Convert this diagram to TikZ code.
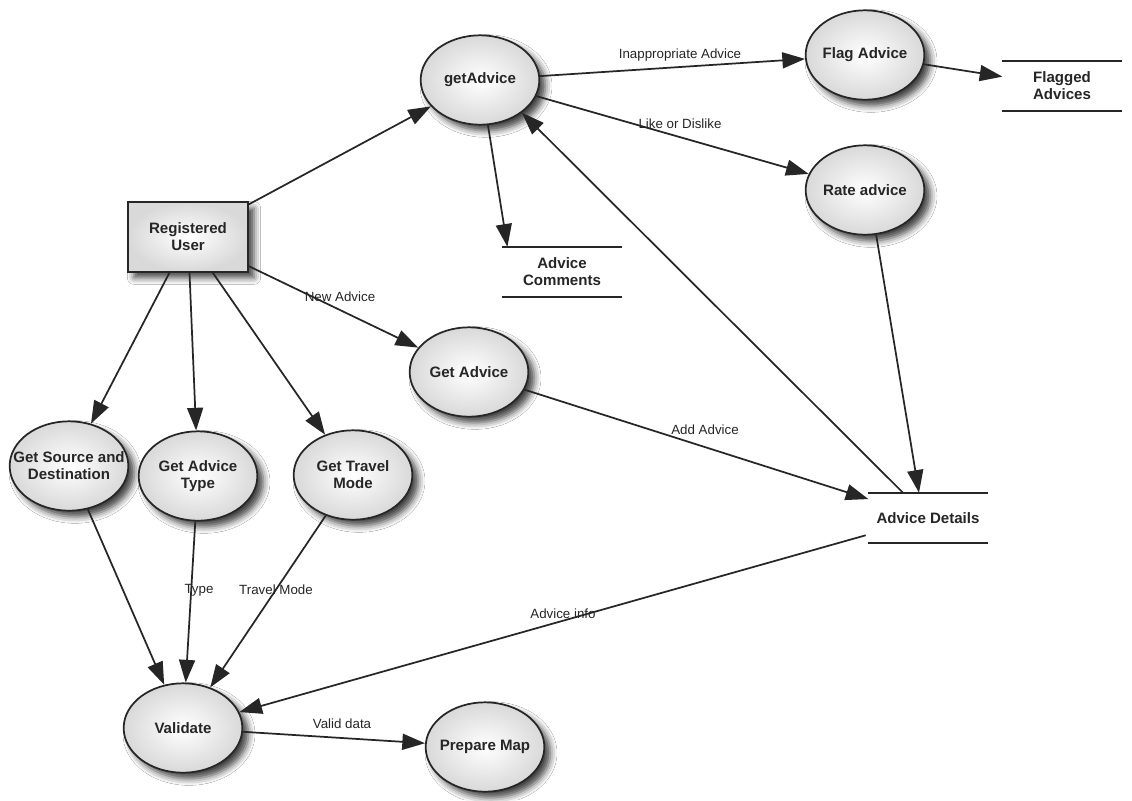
\documentclass[tikz,border=0pt]{standalone}
\usepackage{fontspec}
\setmainfont{Liberation Sans}
\usetikzlibrary{arrows.meta,shadows.blur,shapes.geometric,calc}
\definecolor{ln}{HTML}{262626}
\begin{document}
\begin{tikzpicture}[x=0.75pt,y=-0.75pt,
  shade/.style={inner color=white, outer color=gray!30,
    blur shadow={shadow xshift=4.5pt, shadow yshift=-4.5pt, shadow blur radius=5pt, shadow opacity=75}},
  proc/.style={ellipse, draw=ln, line width=1.3pt, minimum width=89pt, minimum height=67pt,
    inner sep=-20pt, align=center, text=ln, font=\fontsize{11.3}{12.8}\selectfont\bfseries, shade},
  ent/.style={rectangle, draw=ln, line width=1.3pt, minimum width=90pt, minimum height=52pt,
    inner sep=0pt, align=center, text=ln, font=\fontsize{11.3}{12.8}\selectfont\bfseries, shade},
  store/.style={rectangle, minimum width=89pt, minimum height=37.5pt, inner sep=0pt,
    align=center, text=ln, font=\fontsize{11.3}{12.8}\selectfont\bfseries},
  storeline/.style={draw=ln, line width=1.3pt},
  con/.style={draw=ln, line width=1.3pt, -{Triangle[length=17pt,width=12pt]}},
  lbl/.style={font=\fontsize{10}{12}\selectfont, text=ln, inner sep=1pt}
]
\fill[white] (0,0) rectangle (1132,800);
\useasboundingbox (0,0) rectangle (1132,800);

% processes
\node[proc] (ga) at (480,80) {getAdvice};
\node[proc] (fa) at (865,55) {Flag Advice};
\node[proc] (ra) at (865,190) {Rate advice};
\node[proc] (gad) at (469,372) {Get Advice};
\node[proc] (gsd) at (69,466) {Get Source and\\Destination};
\node[proc] (gat) at (198,476) {Get Advice\\Type};
\node[proc] (gtm) at (353,475) {Get Travel\\Mode};
\node[proc] (val) at (183,728) {Validate};
\node[proc] (pm) at (485,747) {Prepare Map};

% external entity
\node[ent] (ru) at (188,237) {Registered\\User};

% data stores
\node[store] (fl) at (1062,86) {Flagged\\Advices};
\node[store] (ac) at (562,272) {Advice\\Comments};
\node[store] (ad) at (928,518) {Advice Details};
\foreach \s in {fl,ac,ad}{
  \draw[storeline] (\s.north west) -- (\s.north east);
  \draw[storeline] (\s.south west) -- (\s.south east);
}

% connectors
\draw[con] (ru) -- (ga);
\draw[con] (ga) -- (fa);
\draw[con] (fa) -- (fl);
\draw[con] (ga) -- (ra);
\draw[con] (ga.-80) -- ([xshift=3.75pt]ac.north west);
\draw[con] ([xshift=-18.75pt]ad.north) -- (ga.-38);
\draw[con] (ra.-76) -- ([xshift=-6.75pt]ad.north);
\draw[con] (ru) -- (gad);
\draw[con] (gad) -- (ad);
\draw[con] (ru) -- (gsd);
\draw[con] (ru) -- (gat);
\draw[con] (ru) -- (gtm);
\draw[con] (gsd) -- (val);
\draw[con] (gat) -- (val);
\draw[con] (gtm) -- (val);
\draw[con] ([xshift=-2pt,yshift=6pt]ad.south west) -- (val);
\draw[con] (val) -- (pm);

% connector labels
\node[lbl] (l1) at (680,55) {Inappropriate Advice};
\node[lbl] (l2) at (680,124) {Like or Dislike};
\node[lbl] (l3) at (340,297) {New Advice};
\node[lbl] (l4) at (705,430) {Add Advice};
\node[lbl] (l5) at (199,590) {Type};
\node[lbl] (l6) at (276,590) {Travel Mode};
\node[lbl] (l7) at (563,614) {Advice info};
\node[lbl] (l8) at (342,724) {Valid data};
\end{tikzpicture}
\end{document}
